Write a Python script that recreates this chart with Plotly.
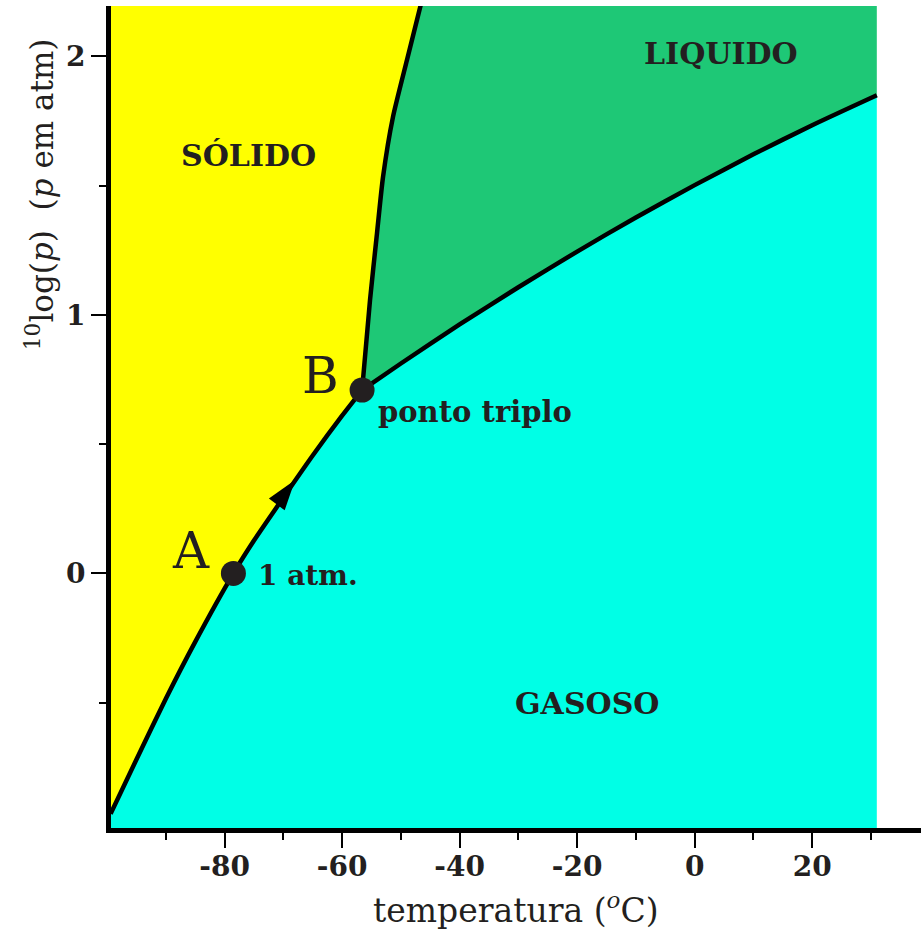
import plotly.graph_objects as go

# ---------------- data ----------------
# sublimation curve (solid/gas)
sub_T = [-99.4, -95, -90, -85, -78.5, -75, -70, -65, -60, -56.6]
sub_logp = [-0.93, -0.72, -0.485, -0.265, 0.0, 0.127, 0.293, 0.456, 0.610, 0.709]
# melting curve (solid/liquid)
mel_T = [-56.6, -55.25, -54.06, -53.04, -51.34, -48.96, -46.5]
mel_logp = [0.709, 1.057, 1.316, 1.533, 1.766, 1.986, 2.21]
# vaporisation curve (liquid/gas) up to the critical point
vap_T = [-56.6, -50, -40, -30, -20, -10, 0, 10, 20, 31.0]
vap_logp = [0.709, 0.812, 0.963, 1.107, 1.245, 1.377, 1.502, 1.621, 1.734, 1.85]

T_crit = 31.0
point_A = (-78.5, 0.0)
point_B = (-56.6, 0.709)
arrow_tip = (-68.0, 0.361)

x_tickvals = [-80, -60, -40, -20, 0, 20]
x_ticktext = ["-80", "-60", "-40", "-20", "0", "20"]
x_minor = [-90, -70, -50, -30, -10, 10, 30]
y_tickvals = [0, 1, 2]
y_ticktext = ["0", "1", "2"]
y_minor = [-0.5, 0.5, 1.5]

X_RANGE = [-99.33, 38.52]
Y_RANGE = [-0.985, 2.195]

# ---------------- styles ----------------
YELLOW = "#ffff00"
GREEN = "#1ec876"
CYAN = "#00ffe6"
DARK = "#231f20"
FONT = "DejaVu Serif"

xlo, xhi = X_RANGE[0] - 5, X_RANGE[1] + 5
ylo, yhi = Y_RANGE[0] - 0.5, Y_RANGE[1] + 0.5

fig = go.Figure()

# gas region
gx = [xlo, sub_T[0]] + sub_T + vap_T[1:] + [T_crit, T_crit]
gy = [ylo, ylo] + sub_logp + vap_logp[1:] + [vap_logp[-1], ylo]
fig.add_trace(go.Scatter(x=gx, y=gy, fill="toself", fillcolor=CYAN, mode="none",
                         hoverinfo="skip", showlegend=False))
# solid region
sx = [xlo, xlo] + sub_T + mel_T[1:] + [mel_T[-1]]
sy = [yhi, sub_logp[0]] + sub_logp + mel_logp[1:] + [yhi]
fig.add_trace(go.Scatter(x=sx, y=sy, fill="toself", fillcolor=YELLOW, mode="none",
                         hoverinfo="skip", showlegend=False))
# liquid region
lx = mel_T + [mel_T[-1], T_crit] + vap_T[::-1]
ly = mel_logp + [yhi, yhi] + vap_logp[::-1]
fig.add_trace(go.Scatter(x=lx, y=ly, fill="toself", fillcolor=GREEN, mode="none",
                         hoverinfo="skip", showlegend=False))

# curves
for xs, ys in [(sub_T, sub_logp), (vap_T, vap_logp), (mel_T, mel_logp)]:
    fig.add_trace(go.Scatter(x=xs, y=ys, mode="lines",
                             line=dict(color="black", width=4.5, shape="spline",
                                       smoothing=0.6),
                             hoverinfo="skip", showlegend=False))

# arrow head on the sublimation curve
fig.add_trace(go.Scatter(x=[arrow_tip[0]], y=[arrow_tip[1]], mode="markers",
                         marker=dict(symbol="arrow", angle=37, size=32, color="black",
                                     line=dict(width=0)),
                         hoverinfo="skip", showlegend=False))

# points A and B
fig.add_trace(go.Scatter(x=[point_A[0], point_B[0]], y=[point_A[1], point_B[1]],
                         mode="markers", marker=dict(size=25, color=DARK),
                         hoverinfo="skip", showlegend=False))

def ann(text, x, y, size, bold=True, xanchor="center", yanchor="middle"):
    fig.add_annotation(x=x, y=y, text=text, showarrow=False, xanchor=xanchor,
                       yanchor=yanchor,
                       font=dict(family=FONT, size=size, color=DARK,
                                 weight="bold" if bold else "normal"))

ann("SÓLIDO", -76.0, 1.618, 30)
ann("LIQUIDO", 4.5, 2.013, 30)
ann("GASOSO", -18.3, -0.502, 30)
ann("1 atm.", -74.6, -0.01, 28, xanchor="left")
ann("ponto triplo", -54.2, 0.625, 29, xanchor="left")
ann("A", -85.7, 0.085, 50, bold=False)
ann("B", -63.6, 0.765, 50, bold=False)

# axis titles
fig.add_annotation(xref="paper", yref="paper", x=0.5, y=-0.0985, showarrow=False,
                   xanchor="center", yanchor="middle",
                   text="temperatura (<i><sup>o</sup></i>C)",
                   font=dict(family=FONT, size=33, color=DARK))
fig.add_annotation(xref="paper", yref="paper", x=-0.0877, y=0.771, showarrow=False,
                   xanchor="center", yanchor="middle", textangle=-90,
                   text="<sup>10</sup>log(<i>p</i>)&nbsp;&nbsp;(<i>p</i> em atm)",
                   font=dict(family=FONT, size=31, color=DARK))

axis_common = dict(showgrid=False, zeroline=False, showline=True, linecolor="black",
                   linewidth=5, ticks="outside", tickcolor="black", tickwidth=2,
                   ticklen=15,
                   tickfont=dict(family=FONT, size=28, color=DARK, weight="bold"))

fig.update_xaxes(range=X_RANGE, tickmode="array", tickvals=x_tickvals,
                 ticktext=x_ticktext, ticklabelstandoff=-6,
                 minor=dict(tickmode="array", tickvals=x_minor, ticklen=7,
                            tickwidth=2, tickcolor="black", ticks="outside"),
                 **axis_common)
fig.update_yaxes(range=Y_RANGE, tickmode="array", tickvals=y_tickvals,
                 ticktext=y_ticktext,
                 minor=dict(tickmode="array", tickvals=y_minor, ticklen=7,
                            tickwidth=2, tickcolor="black", ticks="outside"),
                 **axis_common)

fig.update_layout(width=921, height=930,
                  margin=dict(l=111, r=0, t=6, b=102),
                  paper_bgcolor="white", plot_bgcolor="white",
                  showlegend=False)

fig.write_html("out.html",
               config={"displayModeBar": False},
               post_script="document.body.style.margin='0px';"
                           "document.body.style.overflow='hidden';")
